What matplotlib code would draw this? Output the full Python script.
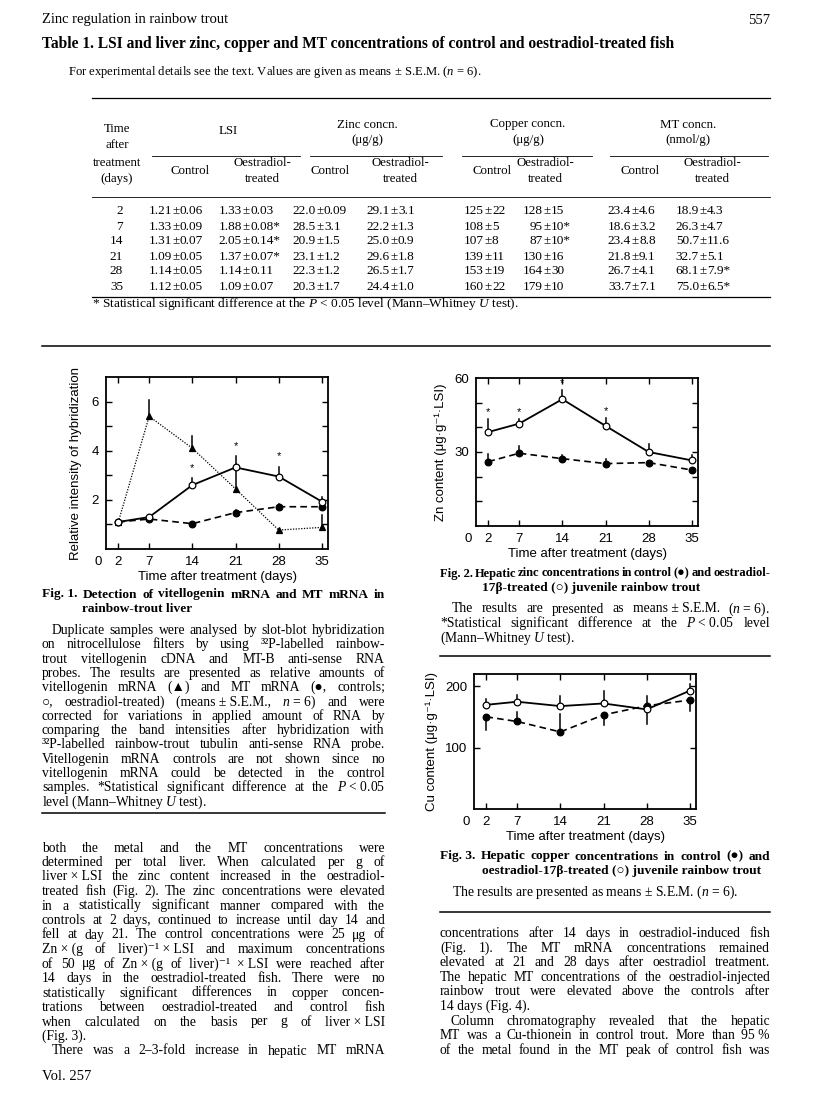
import matplotlib
matplotlib.use('Agg')
import matplotlib.pyplot as plt
from matplotlib.lines import Line2D

W, H = 816, 1097
SERIF = ['Liberation Serif', 'DejaVu Serif']
SANS = ['Liberation Sans', 'DejaVu Sans']
SPECIAL = set('▲●○⁻')  # glyphs that may need the DejaVu fallback
plt.rcParams['font.family'] = 'Liberation Sans'
plt.rcParams['mathtext.fontset'] = 'custom'
plt.rcParams['mathtext.rm'] = 'Liberation Serif'
plt.rcParams['mathtext.it'] = 'Liberation Serif:italic'
plt.rcParams['mathtext.bf'] = 'Liberation Serif:bold'

# ---- table 1 ----
days = [2, 7, 14, 21, 28, 35]
lsi_ctrl = ['1.21±0.06', '1.33±0.09', '1.31±0.07', '1.09±0.05', '1.14±0.05', '1.12±0.05']
lsi_oe = ['1.33±0.03', '1.88±0.08*', '2.05±0.14*', '1.37±0.07*', '1.14±0.11', '1.09±0.07']
zn_ctrl_tab = ['22.0±0.09', '28.5±3.1', '20.9±1.5', '23.1±1.2', '22.3±1.2', '20.3±1.7']
zn_oe_tab = ['29.1±3.1', '22.2±1.3', '25.0±0.9', '29.6±1.8', '26.5±1.7', '24.4±1.0']
cu_ctrl_tab = ['125±22', '108±5', '107±8', '139±11', '153±19', '160±22']
cu_oe_tab = ['128±15', '95±10*', '87±10*', '130±16', '164±30', '179±10']
mt_ctrl_tab = ['23.4±4.6', '18.6±3.2', '23.4±8.8', '21.8±9.1', '26.7±4.1', '33.7±7.1']
mt_oe_tab = ['18.9±4.3', '26.3±4.7', '50.7±11.6', '32.7±5.1', '68.1±7.9*', '75.0±6.5*']

# ---- fig 1: relative hybridization ----
vit = [1.1, 5.4, 4.1, 2.45, 0.77, 0.88]
vit_err = [0.0, 0.65, 0.5, 0.85, 0.05, 0.52]
mtm_ctrl = [1.1, 1.22, 1.03, 1.48, 1.72, 1.72]
mtm_ctrl_err = [0.05, 0.06, 0.05, 0.1, 0.12, 0.15]
mtm_oe = [1.1, 1.3, 2.6, 3.32, 2.95, 1.93]
mtm_oe_err = [0.05, 0.08, 0.28, 0.46, 0.4, 0.2]
mtm_sig = [0, 0, 1, 1, 1, 0]

# ---- fig 2: zinc content ----
zn_oe = [38.1, 41.5, 51.4, 40.6, 30.0, 26.6]
zn_oe_err = [5.2, 1.8, 3.6, 3.0, 3.1, 2.0]
zn_ctrl = [26.1, 29.5, 27.3, 25.3, 25.7, 22.7]
zn_ctrl_err = [3.2, 2.9, 1.4, 2.0, 0.8, 0.6]
zn_sig = [1, 1, 1, 1, 0, 0]

# ---- fig 3: copper content (sign of err = side the bar is drawn) ----
cu_oe = [169.8, 174.8, 167.7, 172.0, 162.3, 192.8]
cu_oe_err = [10, 11, 17, 20, -23, 11]
cu_ctrl = [150.2, 142.6, 125.6, 153.4, 168.2, 177.5]
cu_ctrl_err = [-22, 16, 29, -16, 16, -17]

fig = plt.figure(figsize=(W / 100, H / 100), dpi=100)
fig.patch.set_facecolor('white')
renderer = fig.canvas.get_renderer()


def fx(x):
    return x / W


def fy(y):
    return 1 - y / H


def txt(x, y, s, size=9.8, ha='left', weight='normal', **kw):
    # y is the middle of the x-height; text sits on a baseline just below it
    fam = SERIF if SPECIAL & set(s) else 'Liberation Serif'
    return fig.text(fx(x), fy(y + 3.5), s, size=size, ha=ha, va='baseline',
                    weight=weight, family=fam, **kw)


def jline(x0, x1, y, s, size=9.8, weight='normal', justify=True, min_gap=2.0):
    # justified line: words spread out to fill x0..x1, '~' is a fixed space
    if not justify:
        txt(x0, y, s.replace('~', ' '), size=size, weight=weight)
        return
    words = [w.replace('~', ' ') for w in s.split(' ')]
    objs = [txt(x0, y, w, size=size, weight=weight) for w in words]
    widths = [o.get_window_extent(renderer).width for o in objs]
    n = max(len(words) - 1, 1)
    if x1 - x0 - sum(widths) < min_gap * n:
        # too long for the column: shrink this line a little
        k = (x1 - x0 - min_gap * n) / sum(widths)
        for o in objs:
            o.set_fontsize(size * k)
        widths = [o.get_window_extent(renderer).width for o in objs]
    gap = (x1 - x0 - sum(widths)) / n
    x = x0
    for o, w in zip(objs, widths):
        o.set_x(fx(x))
        x += w + gap


def para(lines, x0, x1, y0, dy, size=9.8, weight='normal', min_gap=2.0):
    for i, (s, just, ind) in enumerate(lines):
        jline(x0 + ind, x1, y0 + i * dy, s, size=size, weight=weight, justify=just,
              min_gap=min_gap)


def hrule(x0, x1, y, lw=0.9):
    fig.add_artist(Line2D([fx(x0), fx(x1)], [fy(y), fy(y)], transform=fig.transFigure,
                          color='k', lw=lw))


# page header
txt(42, 20, 'Zinc regulation in rainbow trout', size=10.5)
txt(770, 20, '557', size=10.5, ha='right')

# table
txt(42, 45, 'Table 1. LSI and liver zinc, copper and MT concentrations of control and oestradiol-treated fish',
    size=11.2, weight='bold')
txt(68, 72, 'For experimental details see the text. Values are given as means ± S.E.M. ($n$ = 6).', size=9.1)
hrule(92, 770, 98)
for s, y in [('Time', 128), ('after', 145), ('treatment', 162), ('(days)', 179)]:
    txt(117, y, s, size=9.3, ha='center')
groups = [('LSI', None, 228, (152, 300)), ('Zinc concn.', '(μg/g)', 367, (310, 442)),
          ('Copper concn.', '(μg/g)', 528, (462, 592)), ('MT concn.', '(nmol/g)', 688, (610, 768))]
for g1, g2, xc, (u0, u1) in groups:
    if g2 is None:
        txt(xc, 130, g1, size=9.3, ha='center')
    else:
        txt(xc, 124, g1, size=9.3, ha='center')
        txt(xc, 140, g2, size=9.3, ha='center')
    hrule(u0, u1, 156, lw=0.6)
col_x = [176, 246, 320, 394, 488, 547, 635, 703]
head_x = [190, 262, 330, 400, 492, 545, 640, 712]
for i, xc in enumerate(head_x):
    if i % 2 == 0:
        txt(xc, 171, 'Control', size=9.3, ha='center')
    else:
        txt(xc, 163, 'Oestradiol-', size=9.3, ha='center')
        txt(xc, 179, 'treated', size=9.3, ha='center')
hrule(92, 770, 197, lw=0.6)
cols = [lsi_ctrl, lsi_oe, zn_ctrl_tab, zn_oe_tab, cu_ctrl_tab, cu_oe_tab, mt_ctrl_tab, mt_oe_tab]
for r, d in enumerate(days):
    y = 211 + r * 15
    txt(123, y, str(d), size=9.5, ha='right')
    for xc, col in zip(col_x, cols):
        a, b = col[r].split('±')
        txt(xc - 4, y, a, size=9.5, ha='right')
        txt(xc, y, '±', size=9.5, ha='center')
        txt(xc + 4, y, b, size=9.5, ha='left')
hrule(92, 770, 297)
txt(92, 303, '* Statistical significant difference at the $P$ < 0.05 level (Mann–Whitney $U$ test).', size=9.6)
hrule(42, 770, 346, lw=1.1)


# ---- figures ----
def panel(l, r, t, b, ylim, yticks, ylabs, ylabel, ypad):
    ax = fig.add_axes([fx(l), fy(b), (r - l) / W, (b - t) / H])
    ax.set_xlim(0, 36)
    ax.set_ylim(*ylim)
    ax.set_xticks(days)
    ax.set_xticklabels([str(d) for d in days])
    ax.set_yticks(yticks)
    ax.set_yticklabels(ylabs)
    ax.tick_params(direction='in', top=True, right=True, length=4, width=1,
                   labelsize=9.5, pad=5)
    for sp in ax.spines.values():
        sp.set_linewidth(1.3)
    ax.annotate('0', xy=(-1.2, 0), xycoords=ax.get_xaxis_transform(), xytext=(0, -5),
                textcoords='offset points', ha='center', va='top', size=9.5)
    ax.set_xlabel('Time after treatment (days)', size=9.5, labelpad=2)
    fam = SANS if SPECIAL & set(ylabel) else 'Liberation Sans'
    ax.set_ylabel(ylabel, size=9.5, labelpad=ypad, family=fam)
    return ax


def series(ax, y, err, marker, face, ls, lw, sig=None, star_off=6):
    ax.plot(days, y, color='k', ls=ls, lw=lw, marker=marker, ms=4.8, mfc=face, mec='k',
            mew=0.9, zorder=3)
    for i, (xi, yi, e) in enumerate(zip(days, y, err)):
        ax.plot([xi, xi], [yi, yi + e], color='k', lw=1.1, zorder=2)
        if sig is not None and sig[i]:
            ax.annotate('*', (xi, yi + e), xytext=(0, star_off), textcoords='offset points',
                        ha='center', va='center', size=8)


ax1 = panel(106, 328, 377, 549, (0, 7), [1, 2, 3, 4, 5, 6], ['', '2', '', '4', '', '6'],
            'Relative intensity of hybridization', 7)
series(ax1, vit, vit_err, '^', 'k', (0, (1, 1.2)), 0.9)
series(ax1, mtm_ctrl, mtm_ctrl_err, 'o', 'k', (0, (4, 2.5)), 1.2)
series(ax1, mtm_oe, mtm_oe_err, 'o', 'white', '-', 1.3, sig=mtm_sig, star_off=7.5)

ax2 = panel(476, 698, 378, 526, (0, 60), [10, 20, 30, 40, 50], ['', '', '30', '', ''],
            'Zn content (μg·g⁻¹·LSI)', 5)
ax2.set_yticks([60], ['60'], minor=True)
ax2.tick_params(which='minor', direction='in', length=0, labelsize=9.5, pad=5)
series(ax2, zn_ctrl, zn_ctrl_err, 'o', 'k', (0, (4, 2.5)), 1.2)
series(ax2, zn_oe, zn_oe_err, 'o', 'white', '-', 1.3, sig=zn_sig, star_off=5)

ax3 = panel(474, 696, 674, 809, (0, 220), [100, 200], ['100', '200'],
            'Cu content (μg·g⁻¹·LSI)', 5)
series(ax3, cu_ctrl, cu_ctrl_err, 'o', 'k', (0, (4, 2.5)), 1.2)
series(ax3, cu_oe, cu_oe_err, 'o', 'white', '-', 1.3)

# ---- captions and body text ----
para([('Fig.~1. Detection of vitellogenin mRNA and MT mRNA in', True, 0),
      ('rainbow-trout liver', False, 40)], 42, 385, 594, 15, size=9.6, weight='bold', min_gap=1.5)
para([('Duplicate samples were analysed by slot-blot hybridization', True, 10),
      ('on nitrocellulose filters by using ³²P-labelled rainbow-', True, 0),
      ('trout vitellogenin cDNA and MT-B anti-sense RNA', True, 0),
      ('probes. The results are presented as relative amounts of', True, 0),
      ('vitellogenin mRNA (▲) and MT mRNA (●, controls;', True, 0),
      ('○, oestradiol-treated) (means~±~S.E.M., $n$~=~6) and were', True, 0),
      ('corrected for variations in applied amount of RNA by', True, 0),
      ('comparing the band intensities after hybridization with', True, 0),
      ('³²P-labelled rainbow-trout tubulin anti-sense RNA probe.', True, 0),
      ('Vitellogenin mRNA controls are not shown since no', True, 0),
      ('vitellogenin mRNA could be detected in the control', True, 0),
      ('samples. *Statistical significant difference at the $P$~<~0.05', True, 0),
      ('level (Mann–Whitney $U$ test).', False, 0)], 42, 385, 630.5, 14.3)
hrule(42, 385, 813, lw=1.1)
para([('both the metal and the MT concentrations were', True, 0),
      ('determined per total liver. When calculated per g of', True, 0),
      ('liver~×~LSI the zinc content increased in the oestradiol-', True, 0),
      ('treated fish (Fig. 2). The zinc concentrations were elevated', True, 0),
      ('in a statistically significant manner compared with the', True, 0),
      ('controls at 2 days, continued to increase until day 14 and', True, 0),
      ('fell at day 21. The control concentrations were 25 μg of', True, 0),
      ('Zn~×~(g of liver)⁻¹~×~LSI and maximum concentrations', True, 0),
      ('of 50 μg of Zn~×~(g of liver)⁻¹~~×~LSI were reached after', True, 0),
      ('14 days in the oestradiol-treated fish. There were no', True, 0),
      ('statistically significant differences in copper concen-', True, 0),
      ('trations between oestradiol-treated and control fish', True, 0),
      ('when calculated on the basis per g of liver~×~LSI', True, 0),
      ('(Fig. 3).', False, 0),
      ('There was a 2–3-fold increase in hepatic MT mRNA', True, 10)], 42, 385, 848, 14.5)
txt(42, 1076, 'Vol. 257', size=10.5)

para([('Fig.~2. Hepatic zinc concentrations in control (●) and oestradiol-', True, 0),
      ('17β-treated (○) juvenile rainbow trout', False, 42)], 440, 770, 573, 14.8,
     size=9.6, weight='bold', min_gap=1.5)
para([('The results are presented as means~±~S.E.M. ($n$~=~6).', True, 12),
      ('*Statistical significant difference at the $P$~<~0.05 level', True, 0),
      ('(Mann–Whitney $U$ test).', False, 0)], 440, 770, 609, 14.5)
hrule(440, 770, 656, lw=1.1)
para([('Fig.~3. Hepatic copper concentrations in control (●) and', True, 0),
      ('oestradiol-17β-treated (○) juvenile rainbow trout', False, 42)], 440, 770, 856, 14.5,
     size=9.6, weight='bold', min_gap=1.5)
txt(452, 892, 'The results are presented as means ± S.E.M. ($n$ = 6).')
hrule(440, 770, 912, lw=1.1)
para([('concentrations after 14 days in oestradiol-induced fish', True, 0),
      ('(Fig. 1). The MT mRNA concentrations remained', True, 0),
      ('elevated at 21 and 28 days after oestradiol treatment.', True, 0),
      ('The hepatic MT concentrations of the oestradiol-injected', True, 0),
      ('rainbow trout were elevated above the controls after', True, 0),
      ('14 days (Fig. 4).', False, 0),
      ('Column chromatography revealed that the hepatic', True, 10),
      ('MT was a Cu-thionein in control trout. More than 95~%', True, 0),
      ('of the metal found in the MT peak of control fish was', True, 0)], 440, 770, 933.5, 14.6)

fig.savefig('out.png', dpi=100)
